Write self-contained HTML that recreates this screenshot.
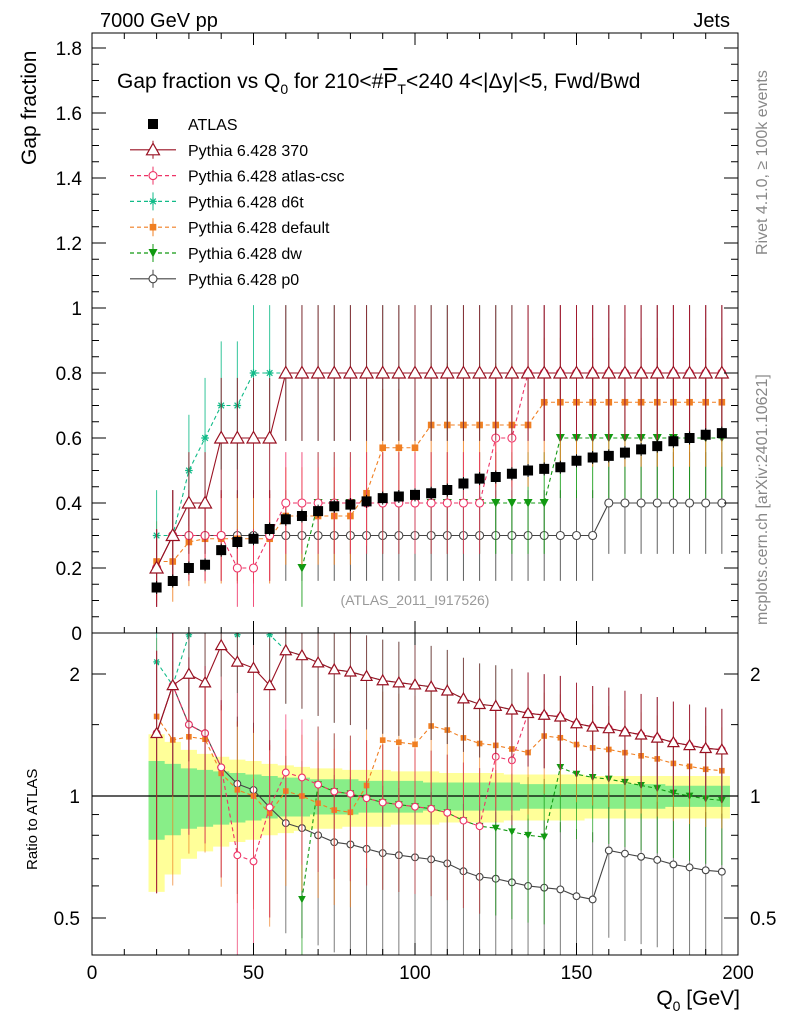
<!DOCTYPE html>
<html><head><meta charset="utf-8"><style>
html,body{margin:0;padding:0;background:#fff}
svg{display:block;font-family:"Liberation Sans",sans-serif}
</style></head><body>
<svg id="c" width="786" height="1024" xmlns="http://www.w3.org/2000/svg">
<defs>
<clipPath id="clipMain"><rect x="92" y="33" width="646" height="600"/></clipPath>
<clipPath id="clipRatio"><rect x="92" y="633" width="646" height="322"/></clipPath>
</defs>
<rect width="786" height="1024" fill="#fff"/>
<g id="bands" clip-path="url(#clipRatio)"></g>
<g id="marksMain" clip-path="url(#clipMain)"></g>
<g id="marksRatio" clip-path="url(#clipRatio)"></g>
<rect x="92" y="33" width="646" height="600" fill="none" stroke="#000"/>
<rect x="92" y="633" width="646" height="322" fill="none" stroke="#000"/>
<g id="axes" font-size="19"></g>
<text x="100" y="27" font-size="20">7000 GeV pp</text>
<text x="730" y="27" font-size="20" text-anchor="end">Jets</text>
<text x="117" y="88" font-size="21">Gap fraction vs Q<tspan font-size="14" dy="6">0</tspan><tspan dy="-6"> for 210&lt;#</tspan><tspan text-decoration="overline">P</tspan><tspan font-size="14" dy="6">T</tspan><tspan dy="-6">&lt;240  4&lt;|Δy|&lt;5, Fwd/Bwd</tspan></text>
<text x="0" y="0" font-size="21" transform="translate(36,165) rotate(-90)">Gap fraction</text>
<text x="0" y="0" font-size="15" transform="translate(37,870) rotate(-90)">Ratio to ATLAS</text>
<text x="740" y="1005" font-size="21" text-anchor="end">Q<tspan font-size="14" dy="6">0</tspan><tspan dy="-6"> [GeV]</tspan></text>
<text x="415" y="605" font-size="14" fill="#999" text-anchor="middle">(ATLAS_2011_I917526)</text>
<text x="0" y="0" font-size="16" fill="#888" transform="translate(767,255) rotate(-90)">Rivet 4.1.0, ≥ 100k events</text>
<text x="0" y="0" font-size="16" fill="#888" transform="translate(767,625) rotate(-90)">mcplots.cern.ch [arXiv:2401.10621]</text>
<g id="legend" font-size="16"></g>
</svg>
<script>
const q0 = [20,25,30,35,40,45,50,55,60,65,70,75,80,85,90,95,100,105,110,115,120,125,130,135,140,145,150,155,160,165,170,175,180,185,190,195];
const atlas = [0.14,0.16,0.20,0.21,0.255,0.28,0.29,0.32,0.35,0.36,0.375,0.39,0.395,0.405,0.415,0.42,0.425,0.43,0.44,0.46,0.475,0.48,0.49,0.50,0.505,0.51,0.53,0.54,0.545,0.555,0.565,0.575,0.59,0.60,0.61,0.615];
const p370 = [0.2,0.3,0.4,0.4,0.6,0.6,0.6,0.6,0.8,0.8,0.8,0.8,0.8,0.8,0.8,0.8,0.8,0.8,0.8,0.8,0.8,0.8,0.8,0.8,0.8,0.8,0.8,0.8,0.8,0.8,0.8,0.8,0.8,0.8,0.8,0.8];
const pcsc = [0.2,0.3,0.3,0.3,0.3,0.2,0.2,0.3,0.4,0.4,0.4,0.4,0.4,0.4,0.4,0.4,0.4,0.4,0.4,0.4,0.4,0.6,0.6,0.8,0.8,0.8,0.8,0.8,0.8,0.8,0.8,0.8,0.8,0.8,0.8,0.8];
const pd6t = [0.3,0.3,0.5,0.6,0.7,0.7,0.8,0.8,0.8,0.8,0.8,0.8,0.8,0.8,0.8,0.8,0.8,0.8,0.8,0.8,0.8,0.8,0.8,0.8,0.8,0.8,0.8,0.8,0.8,0.8,0.8,0.8,0.8,0.8,0.8,0.8];
const pdef = [0.22,0.22,0.28,0.29,0.29,0.29,0.29,0.29,0.36,0.36,0.36,0.36,0.36,0.43,0.57,0.57,0.57,0.64,0.64,0.64,0.64,0.64,0.64,0.64,0.71,0.71,0.71,0.71,0.71,0.71,0.71,0.71,0.71,0.71,0.71,0.71];
const pdw = [null,null,null,null,null,null,null,null,null,0.2,0.4,0.4,0.4,0.4,0.4,0.4,0.4,0.4,0.4,0.4,0.4,0.4,0.4,0.4,0.4,0.6,0.6,0.6,0.6,0.6,0.6,0.6,0.6,0.6,0.6,0.6];
const pp0 = [0.2,0.3,0.3,0.3,0.3,0.3,0.3,0.3,0.3,0.3,0.3,0.3,0.3,0.3,0.3,0.3,0.3,0.3,0.3,0.3,0.3,0.3,0.3,0.3,0.3,0.3,0.3,0.3,0.4,0.4,0.4,0.4,0.4,0.4,0.4,0.4];
const bandInner = [0.22,0.2,0.17,0.16,0.15,0.14,0.13,0.12,0.11,0.11,0.1,0.1,0.1,0.09,0.09,0.09,0.09,0.08,0.08,0.08,0.08,0.08,0.08,0.07,0.07,0.07,0.07,0.07,0.07,0.07,0.07,0.07,0.06,0.06,0.06,0.06];
const bandOuter = [0.42,0.36,0.3,0.27,0.25,0.23,0.22,0.2,0.19,0.18,0.17,0.17,0.16,0.16,0.16,0.15,0.15,0.15,0.14,0.14,0.14,0.14,0.13,0.13,0.13,0.13,0.13,0.12,0.12,0.12,0.12,0.12,0.12,0.12,0.12,0.12];
const yTicks = [0,0.2,0.4,0.6,0.8,1,1.2,1.4,1.6,1.8];
const xTicks = [0,50,100,150,200];
const rTicks = [0.5,1,2];

const NS="http://www.w3.org/2000/svg";
const X=v=>92+v*646/200;
const Y=v=>633-v*325;
const R=v=>796-Math.log2(Math.max(v,0.05))*122;
function mk(tag,attrs,parent){const e=document.createElementNS(NS,tag);for(const k in attrs)e.setAttribute(k,attrs[k]);parent.appendChild(e);return e;}
const mm=document.getElementById('marksMain'),mr=document.getElementById('marksRatio'),bands=document.getElementById('bands'),axes=document.getElementById('axes'),legend=document.getElementById('legend');

function bandPath(arr){let top='',bot='';q0.forEach((q,i)=>{const x0=X(q-2.5),x1=X(q+2.5);top+=`L${x0},${R(1+arr[i])}L${x1},${R(1+arr[i])}`;});for(let i=q0.length-1;i>=0;i--){const x0=X(q0[i]-2.5),x1=X(q0[i]+2.5);bot+=`L${x1},${R(1-arr[i])}L${x0},${R(1-arr[i])}`;}return 'M'+top.slice(1)+bot+'Z';}
const bo=mk('path',{d:bandPath(bandOuter),fill:'#ffff99'},bands);


const bi=mk('path',{d:bandPath(bandInner),fill:'#88ee88'},bands);


mk('line',{x1:92,x2:738,y1:R(1),y2:R(1),stroke:'#000','stroke-width':1.2},bands);

function marker(type,x,y,color,g,s){
  s=s||1;
  if(type==='sq') mk('rect',{x:x-5,y:y-5,width:10,height:10,fill:color},g);
  else if(type==='ssq') mk('rect',{x:x-3.3*s,y:y-3.3*s,width:6.6*s,height:6.6*s,fill:color},g);
  else if(type==='tri') mk('path',{d:`M${x},${y-6.5*s}L${x+6.5*s},${y+5*s}L${x-6.5*s},${y+5*s}Z`,fill:'#fff',stroke:color,'stroke-width':1.2},g);
  else if(type==='tdn') mk('path',{d:`M${x-4.5*s},${y-4*s}L${x+4.5*s},${y-4*s}L${x},${y+4.5*s}Z`,fill:color},g);
  else if(type==='circ') mk('circle',{cx:x,cy:y,r:4*s,fill:'#fff',stroke:color,'stroke-width':1.1},g);
  else if(type==='star'){const a=3.8*s,b=2.8*s;mk('path',{d:`M${x-a},${y}H${x+a}M${x},${y-a}V${y+a}M${x-b},${y-b}L${x+b},${y+b}M${x-b},${y+b}L${x+b},${y-b}`,stroke:color,'stroke-width':1.2},g);}
}

const series=[
 {name:'pythia-p0',vals:pp0,color:'#444',type:'circ',dash:'',label:'Pythia 6.428 p0'},
 {name:'pythia-dw',vals:pdw,color:'#119911',type:'tdn',dash:'4,3',label:'Pythia 6.428 dw'},
 {name:'pythia-default',vals:pdef,color:'#f07f22',type:'ssq',dash:'4,3',label:'Pythia 6.428 default'},
 {name:'pythia-d6t',vals:pd6t,color:'#11bb88',type:'star',dash:'4,3',label:'Pythia 6.428 d6t'},
 {name:'pythia-atlas-csc',vals:pcsc,color:'#ee3366',type:'circ',dash:'4,3',label:'Pythia 6.428 atlas-csc'},
 {name:'pythia-370',vals:p370,color:'#991122',type:'tri',dash:'',label:'Pythia 6.428 370'},
];
series.forEach(s=>{
  const g=mk('g',{},mm);
  
  
  const gr=mk('g',{},mr);
  
  
  let d='',dr='';
  q0.forEach((q,i)=>{const v=s.vals[i];if(v===null)return;const x=X(q);
    d+=(d?'L':'M')+x+','+Y(v);
    dr+=(dr?'L':'M')+x+','+R(v/atlas[i]);
  });
  mk('path',{d:d,fill:'none',stroke:s.color,'stroke-width':1.1,'stroke-dasharray':s.dash},g);
  mk('path',{d:dr,fill:'none',stroke:s.color,'stroke-width':1.1,'stroke-dasharray':s.dash},gr);
  q0.forEach((q,i)=>{const v=s.vals[i];if(v===null)return;const x=X(q);const e=0.2*Math.sqrt(Math.max(v,0.05))+0.03;
    mk('line',{x1:x,x2:x,y1:Y(v-e),y2:Y(v+e),stroke:s.color,'stroke-width':1,'stroke-opacity':0.85},g);
    marker(s.type,x,Y(v),s.color,g,1);
    const r=v/atlas[i];const lo=(v-e)/atlas[i],hi=(v+e)/atlas[i];
    mk('line',{x1:x,x2:x,y1:R(lo),y2:R(hi),stroke:s.color,'stroke-width':1,'stroke-opacity':0.7},gr);
    marker(s.type,x,R(r),s.color,gr,0.85);
  });
});
const ga=mk('g',{},mm);


q0.forEach((q,i)=>{const x=X(q);mk('line',{x1:x,x2:x,y1:Y(atlas[i]-0.02),y2:Y(atlas[i]+0.02),stroke:'#000'},ga);marker('sq',x,Y(atlas[i]),'#000',ga);});

xTicks.forEach(t=>{const x=X(t);
  mk('line',{x1:x,x2:x,y1:955,y2:943,stroke:'#000'},axes);mk('line',{x1:x,x2:x,y1:633,y2:621,stroke:'#000'},axes);mk('line',{x1:x,x2:x,y1:633,y2:645,stroke:'#000'},axes);mk('line',{x1:x,x2:x,y1:33,y2:45,stroke:'#000'},axes);
  const tx=mk('text',{x:x,y:979,'text-anchor':'middle'},axes);tx.textContent=t;
  
  
});
for(let t=0;t<=200;t+=10){const x=X(t);if(t%50){mk('line',{x1:x,x2:x,y1:955,y2:949,stroke:'#000'},axes);mk('line',{x1:x,x2:x,y1:633,y2:627,stroke:'#000'},axes);mk('line',{x1:x,x2:x,y1:33,y2:39,stroke:'#000'},axes);}}
yTicks.forEach(t=>{const y=Y(t);
  mk('line',{x1:92,x2:106,y1:y,y2:y,stroke:'#000'},axes);mk('line',{x1:738,x2:724,y1:y,y2:y,stroke:'#000'},axes);
  const tx=mk('text',{x:82,y:y+7,'text-anchor':'end'},axes);tx.textContent=t;
  
  
});
for(let t=0.05;t<1.85;t+=0.05){const y=Y(t);mk('line',{x1:92,x2:99,y1:y,y2:y,stroke:'#000'},axes);mk('line',{x1:738,x2:731,y1:y,y2:y,stroke:'#000'},axes);}
rTicks.forEach(t=>{const y=R(t);
  mk('line',{x1:92,x2:106,y1:y,y2:y,stroke:'#000'},axes);mk('line',{x1:738,x2:724,y1:y,y2:y,stroke:'#000'},axes);
  const tx=mk('text',{x:80,y:y+7,'text-anchor':'end'},axes);tx.textContent=t;
  
  
  const tr=mk('text',{x:750,y:y+7},axes);tr.textContent=t;
  
  
});
[0.6,0.7,0.8,0.9,1.5].forEach(t=>{const y=R(t);mk('line',{x1:92,x2:99,y1:y,y2:y,stroke:'#000'},axes);mk('line',{x1:738,x2:731,y1:y,y2:y,stroke:'#000'},axes);});

const leg=[{label:'ATLAS',color:'#000',type:'sq',dash:'',line:false}].concat(series.slice().reverse().map(s=>({label:s.label,color:s.color,type:s.type,dash:s.dash,line:true})));
leg.forEach((l,i)=>{const y=124+i*25.8;
  const g=mk('g',{},legend);
  
  
  if(l.line){mk('line',{x1:130,x2:176,y1:y,y2:y,stroke:l.color,'stroke-width':1.2,'stroke-dasharray':l.dash},g);mk('line',{x1:153,x2:153,y1:y-9,y2:y+9,stroke:l.color},g);}
  marker(l.type,153,y,l.color,g,1);
  const t=mk('text',{x:188,y:y+6},g);t.textContent=l.label;
});
</script>
</body></html>
